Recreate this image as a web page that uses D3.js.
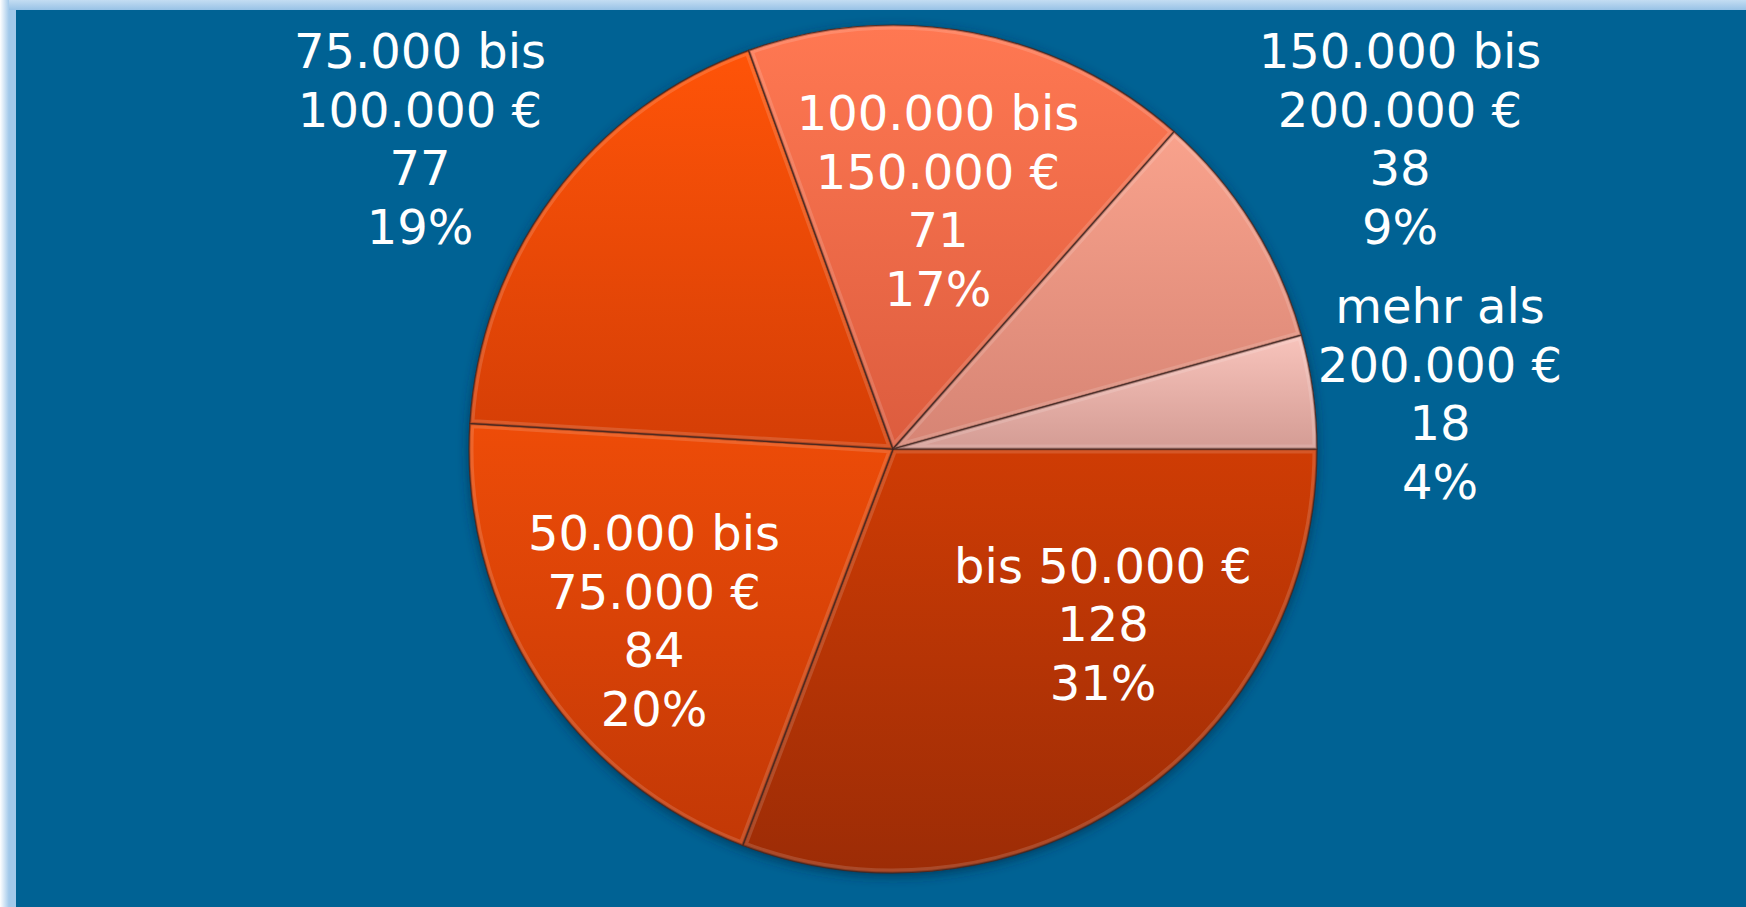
<!DOCTYPE html>
<html>
<head>
<meta charset="utf-8">
<script src="https://cdn.jsdelivr.net/npm/d3@7"></script>
<style>
  html, body { margin: 0; padding: 0; background: #ffffff; }
  svg { display: block; }
</style>
</head>
<body>
<div id="chart"></div>
<script>
'use strict';

// data (clockwise from 3 o'clock)
const categories = ['bis 50.000 €', '50.000 bis 75.000 €', '75.000 bis 100.000 €',
                    '100.000 bis 150.000 €', '150.000 bis 200.000 €', 'mehr als 200.000 €'];
const labelLines = [['bis 50.000 €'], ['50.000 bis', '75.000 €'], ['75.000 bis', '100.000 €'],
                    ['100.000 bis', '150.000 €'], ['150.000 bis', '200.000 €'], ['mehr als', '200.000 €']];
const counts = [128, 84, 77, 71, 38, 18];
const percents = ['31%', '20%', '19%', '17%', '9%', '4%'];

// colours: top / bottom of each slice gradient
const topColors = ['#cf3c04', '#ee4c08', '#ff5408', '#ff7852', '#f9a28c', '#f8c4bc'];
const bottomColors = ['#9c2c06', '#c23806', '#d43e06', '#dc5c3e', '#d68474', '#d49c94'];

// label block centres relative to the pie centre
const labelOffsets = [[210, 174], [-239, 171], [-473, -311], [45, -249], [507, -311], [547, -56]];

const W = 1746, H = 907;
const cx = 893, cy = 449, radius = 424;
const fontSize = 48, lineGap = 58.5;

const svg = d3.select('#chart').append('svg')
    .attr('width', W)
    .attr('height', H);

const defs = svg.append('defs');

// frame
const edge = defs.append('linearGradient').attr('id', 'edgeL')
    .attr('x1', 0).attr('x2', 1).attr('y1', 0).attr('y2', 0);
edge.append('stop').attr('offset', 0).attr('stop-color', '#ffffff');
edge.append('stop').attr('offset', 1).attr('stop-color', '#a2c9ea');

const edgeT = defs.append('linearGradient').attr('id', 'edgeT')
    .attr('x1', 0).attr('x2', 0).attr('y1', 0).attr('y2', 1);
edgeT.append('stop').attr('offset', 0).attr('stop-color', '#c4ddf2');
edgeT.append('stop').attr('offset', 1).attr('stop-color', '#98c2e6');

svg.append('rect').attr('width', W).attr('height', H).attr('fill', '#a2c9ea');
svg.append('rect').attr('width', W).attr('height', 10).attr('fill', 'url(#edgeT)');
svg.append('rect').attr('width', 9).attr('height', H).attr('fill', 'url(#edgeL)');
svg.append('rect')
    .attr('x', 16).attr('y', 10)
    .attr('width', W - 16).attr('height', H - 10)
    .attr('fill', '#006294');

// shadow under the pie
const shadow = defs.append('filter').attr('id', 'shadow')
    .attr('x', '-10%').attr('y', '-10%').attr('width', '120%').attr('height', '120%');
shadow.append('feGaussianBlur').attr('in', 'SourceAlpha').attr('stdDeviation', 6);
shadow.append('feOffset').attr('dx', 0).attr('dy', 3).attr('result', 'blur');
shadow.append('feFlood').attr('flood-color', '#002a44').attr('flood-opacity', 0.7);
shadow.append('feComposite').attr('in2', 'blur').attr('operator', 'in');
const merge = shadow.append('feMerge');
merge.append('feMergeNode');
merge.append('feMergeNode').attr('in', 'SourceGraphic');

categories.forEach((c, i) => {
  const g = defs.append('linearGradient').attr('id', 'grad' + i)
      .attr('x1', 0).attr('x2', 0).attr('y1', 0).attr('y2', 1);
  g.append('stop').attr('offset', 0).attr('stop-color', topColors[i]);
  g.append('stop').attr('offset', 1).attr('stop-color', bottomColors[i]);
});

const pie = d3.pie()
    .sort(null)
    .value(d => d)
    .startAngle(Math.PI / 2)
    .endAngle(Math.PI / 2 + 2 * Math.PI);

const arc = d3.arc().innerRadius(0).outerRadius(radius);
const arcs = pie(counts);

const pieG = svg.append('g')
    .attr('transform', 'translate(' + cx + ',' + cy + ')');

// shadow disc
pieG.append('circle')
    .attr('r', radius)
    .attr('fill', '#7a2a08')
    .attr('filter', 'url(#shadow)');

arcs.forEach((a, i) => {
  defs.append('clipPath').attr('id', 'clip' + i)
      .append('path').attr('d', arc(a));
});

const slices = pieG.selectAll('.slice')
    .data(arcs)
    .enter().append('g')
    .attr('class', 'slice');

slices.append('path')
    .attr('d', arc)
    .attr('fill', (d, i) => 'url(#grad' + i + ')');

// bevel: light inner rim and darker edge, clipped to slice
slices.append('path')
    .attr('d', arc)
    .attr('clip-path', (d, i) => 'url(#clip' + i + ')')
    .attr('fill', 'none')
    .attr('stroke', '#ffffff')
    .attr('stroke-opacity', 0.14)
    .attr('stroke-width', 9);

slices.append('path')
    .attr('d', arc)
    .attr('clip-path', (d, i) => 'url(#clip' + i + ')')
    .attr('fill', 'none')
    .attr('stroke', '#3a1a10')
    .attr('stroke-opacity', 0.3)
    .attr('stroke-width', 3);

slices.append('path')
    .attr('d', arc)
    .attr('fill', 'none')
    .attr('stroke', '#3e2420')
    .attr('stroke-opacity', 0.8)
    .attr('stroke-width', 1.2);

// labels
const labels = svg.append('g')
    .attr('font-family', 'Verdana, "DejaVu Sans", sans-serif')
    .attr('font-size', fontSize)
    .attr('fill', '#ffffff')
    .attr('text-anchor', 'middle');

categories.forEach((c, i) => {
  const lines = labelLines[i].concat([String(counts[i]), percents[i]]);
  const x = cx + labelOffsets[i][0];
  const yMid = cy + labelOffsets[i][1];
  const y0 = yMid - (lines.length - 1) * lineGap / 2;
  const t = labels.append('text')
      .attr('x', x)
      .attr('y', y0 + 18);
  lines.forEach((ln, k) => {
    t.append('tspan')
        .attr('x', x)
        .attr('y', y0 + k * lineGap + 18)
        .text(ln);
  });
});
</script>
</body>
</html>
